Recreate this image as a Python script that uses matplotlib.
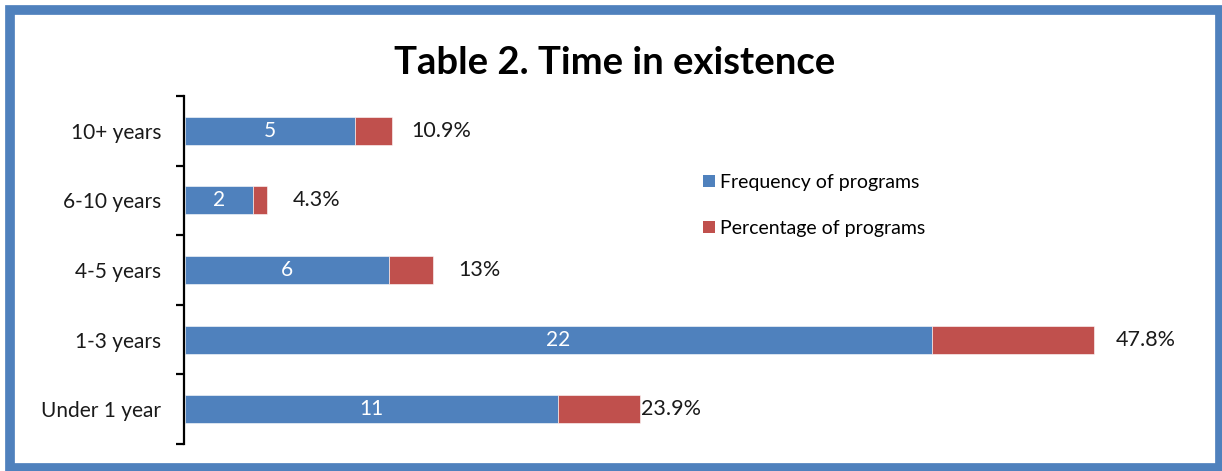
import matplotlib
matplotlib.use("Agg")
import matplotlib.pyplot as plt
from matplotlib.patches import Rectangle, Patch
import numpy as np

categories = ["Under 1 year", "1-3 years", "4-5 years", "6-10 years", "10+ years"]
frequency = [11, 22, 6, 2, 5]
percentage = [23.9, 47.8, 13, 4.3, 10.9]
pct_labels = ["23.9%", "47.8%", "13%", "4.3%", "10.9%"]

BLUE = "#4F81BD"
RED = "#C0504D"
FONT = ["Lato", "DejaVu Sans"]
plt.rcParams["font.family"] = FONT

W, H = 1222, 471
fig = plt.figure(figsize=(W / 100, H / 100), dpi=100)
fig.patch.set_facecolor("white")

ax = fig.add_axes([185 / W, 1 - 444 / H, (1203.5 - 185) / W, (444 - 96) / H])
y = np.arange(len(categories))
red_w = [p / 10 for p in percentage]
ax.barh(y, frequency, height=0.4, color=BLUE, edgecolor="white", linewidth=0.4)
ax.barh(y, red_w, left=frequency, height=0.4, color=RED, edgecolor="white", linewidth=0.4)

ax.set_xlim(0, 30)
ax.set_ylim(-0.5, len(categories) - 0.5)

for s in ["top", "right", "bottom"]:
    ax.spines[s].set_visible(False)
ax.spines["left"].set_linewidth(1.6)
ax.spines["left"].set_position(("outward", 1))
ax.set_xticks([])
ax.set_yticks(y)
ax.set_yticklabels(categories, fontsize=15, color="#1a1a1a")
ax.tick_params(axis="y", which="major", length=0, pad=16)
ax.set_yticks(np.arange(-0.5, len(categories)), minor=True)
ax.tick_params(axis="y", which="minor", length=6, width=1.6, direction="out")

label_pad_px = [1, 22, 25, 25, 20]
for i in range(len(categories)):
    ax.text(frequency[i] / 2, y[i], str(frequency[i]), color="white",
            ha="center", va="center", fontsize=15)
    end = frequency[i] + red_w[i]
    ax.annotate(pct_labels[i], xy=(end, y[i]), xytext=(label_pad_px[i] * 0.72, 0),
                textcoords="offset points", ha="left", va="center",
                fontsize=15.5, color="#1a1a1a")

handles = [Patch(facecolor=BLUE), Patch(facecolor=RED)]
ax.legend(handles, ["Frequency of programs", "Percentage of programs"],
          loc="upper left", bbox_to_anchor=((703 - 185) / (1203.5 - 185), (444 - 174) / (444 - 96)),
          frameon=False, fontsize=14, handlelength=0.6, handleheight=0.6,
          handletextpad=0.3, labelspacing=1.5, borderpad=0, borderaxespad=0)

fig.text(615 / W, 1 - 63 / H, "Table 2. Time in existence", ha="center", va="center",
         fontsize=27.5, fontweight="bold", color="black")

fig.patches.append(Rectangle((10 / W, 1 - 468 / H), 1210 / W, 458 / H,
                             transform=fig.transFigure, fill=False,
                             edgecolor=BLUE, linewidth=7, zorder=10))

fig.savefig("out.png", dpi=100)
